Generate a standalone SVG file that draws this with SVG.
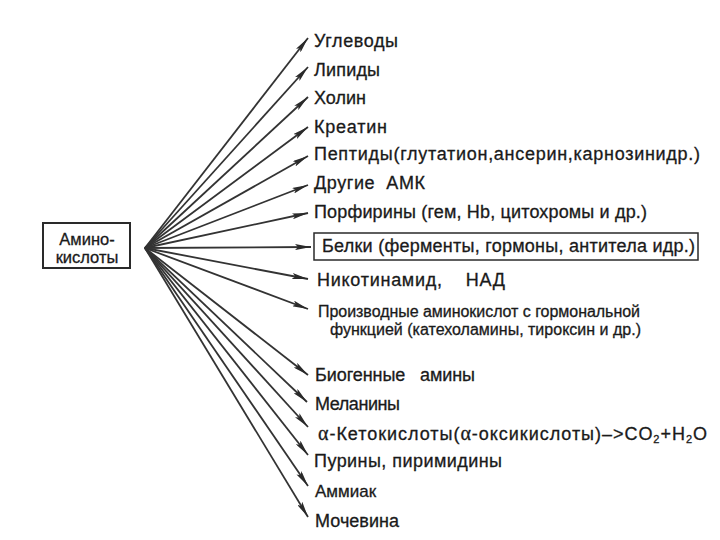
<svg xmlns="http://www.w3.org/2000/svg" width="720" height="540" viewBox="0 0 720 540">
<style>
.lbl{font-family:"Liberation Sans","Arial",sans-serif;font-size:18px;fill:#1a1a1a;stroke:#1a1a1a;stroke-width:0.3}
.sm{font-size:16px}
.box{fill:#fff;stroke:#2a2a2a;stroke-width:2}
.conn line{stroke:#333;stroke-width:1.8}
.gr{font-family:"Liberation Serif",serif}
</style>
<defs>
<marker id="ah" viewBox="0 0 16 6" refX="16" refY="3" markerWidth="16" markerHeight="6" markerUnits="userSpaceOnUse" orient="auto">
<path d="M0,0 L16,3 L0,6 L3,3 z" fill="#2a2a2a"/>
</marker>
</defs>
<rect width="720" height="540" fill="#fff"/>
<g id="amino">
<rect class="box" x="43" y="223" width="87" height="45"/>
<text class="lbl" x="87" y="245" text-anchor="middle" style="font-size:16.5px">Амино-</text>
<text class="lbl" x="87" y="263" text-anchor="middle" style="font-size:16.5px">кислоты</text>
</g>
<g class="conn">
<line x1="145" y1="248" x2="308" y2="38" marker-end="url(#ah)"/>
<line x1="145" y1="248" x2="308" y2="67" marker-end="url(#ah)"/>
<line x1="145" y1="248" x2="308" y2="97" marker-end="url(#ah)"/>
<line x1="145" y1="248" x2="308" y2="127" marker-end="url(#ah)"/>
<line x1="145" y1="248" x2="308" y2="156" marker-end="url(#ah)"/>
<line x1="145" y1="248" x2="308" y2="185" marker-end="url(#ah)"/>
<line x1="145" y1="248" x2="308" y2="213" marker-end="url(#ah)"/>
<line x1="145" y1="248" x2="311" y2="247" marker-end="url(#ah)"/>
<line x1="145" y1="248" x2="308" y2="279" marker-end="url(#ah)"/>
<line x1="145" y1="248" x2="308" y2="309" marker-end="url(#ah)"/>
<line x1="145" y1="248" x2="308" y2="375" marker-end="url(#ah)"/>
<line x1="145" y1="248" x2="307" y2="402" marker-end="url(#ah)"/>
<line x1="145" y1="248" x2="308" y2="427" marker-end="url(#ah)"/>
<line x1="145" y1="248" x2="308" y2="455" marker-end="url(#ah)"/>
<line x1="145" y1="248" x2="308" y2="486" marker-end="url(#ah)"/>
<line x1="145" y1="248" x2="308" y2="517" marker-end="url(#ah)"/>
</g>
<g id="n1"><text class="lbl" x="314" y="47" textLength="84" lengthAdjust="spacing">Углеводы</text></g>
<g id="n2"><text class="lbl" x="314" y="76" textLength="66" lengthAdjust="spacing">Липиды</text></g>
<g id="n3"><text class="lbl" x="314" y="104" textLength="52" lengthAdjust="spacing">Холин</text></g>
<g id="n4"><text class="lbl" x="314" y="133" textLength="73" lengthAdjust="spacing">Креатин</text></g>
<g id="n5"><text class="lbl" x="314" y="160" textLength="386" lengthAdjust="spacing">Пептиды(глутатион,ансерин,карнозинидр.)</text></g>
<g id="n6"><text class="lbl" x="314" y="189" textLength="111" lengthAdjust="spacing" xml:space="preserve">Другие  АМК</text></g>
<g id="n7"><text class="lbl" x="314" y="218" textLength="333" lengthAdjust="spacing">Порфирины (гем, Hb, цитохромы и др.)</text></g>
<g id="n8">
<rect class="box" x="314" y="233" width="384" height="27" style="stroke-width:1.5"/>
<text class="lbl" x="322" y="252" textLength="373" lengthAdjust="spacing">Белки (ферменты, гормоны, антитела идр.)</text>
</g>
<g id="n9"><text class="lbl" x="317" y="286" textLength="188" lengthAdjust="spacing" xml:space="preserve">Никотинамид,    НАД</text></g>
<g id="n10">
<text class="lbl sm" x="318" y="317" textLength="322" lengthAdjust="spacing">Производные аминокислот с гормональной</text>
<text class="lbl sm" x="330" y="335" textLength="311" lengthAdjust="spacing">функцией (катехоламины, тироксин и др.)</text>
</g>
<g id="n11"><text class="lbl" x="315" y="381" textLength="160" lengthAdjust="spacing" xml:space="preserve">Биогенные   амины</text></g>
<g id="n12"><text class="lbl" x="315" y="410" textLength="85" lengthAdjust="spacing">Меланины</text></g>
<g id="n13"><text class="lbl" x="318" y="440" textLength="389" lengthAdjust="spacing"><tspan class="gr" font-size="20">α</tspan>-Кетокислоты(<tspan class="gr" font-size="20">α</tspan>-оксикислоты)–&gt;CO<tspan font-size="11" dy="3">2</tspan><tspan dy="-3">+H</tspan><tspan font-size="11" dy="3">2</tspan><tspan dy="-3">O</tspan></text></g>
<g id="n14"><text class="lbl" x="314" y="467" textLength="188" lengthAdjust="spacing">Пурины, пиримидины</text></g>
<g id="n15"><text class="lbl" x="315" y="497" style="font-size:17px">Аммиак</text></g>
<g id="n16"><text class="lbl" x="315" y="527" textLength="84" lengthAdjust="spacing">Мочевина</text></g>
</svg>
